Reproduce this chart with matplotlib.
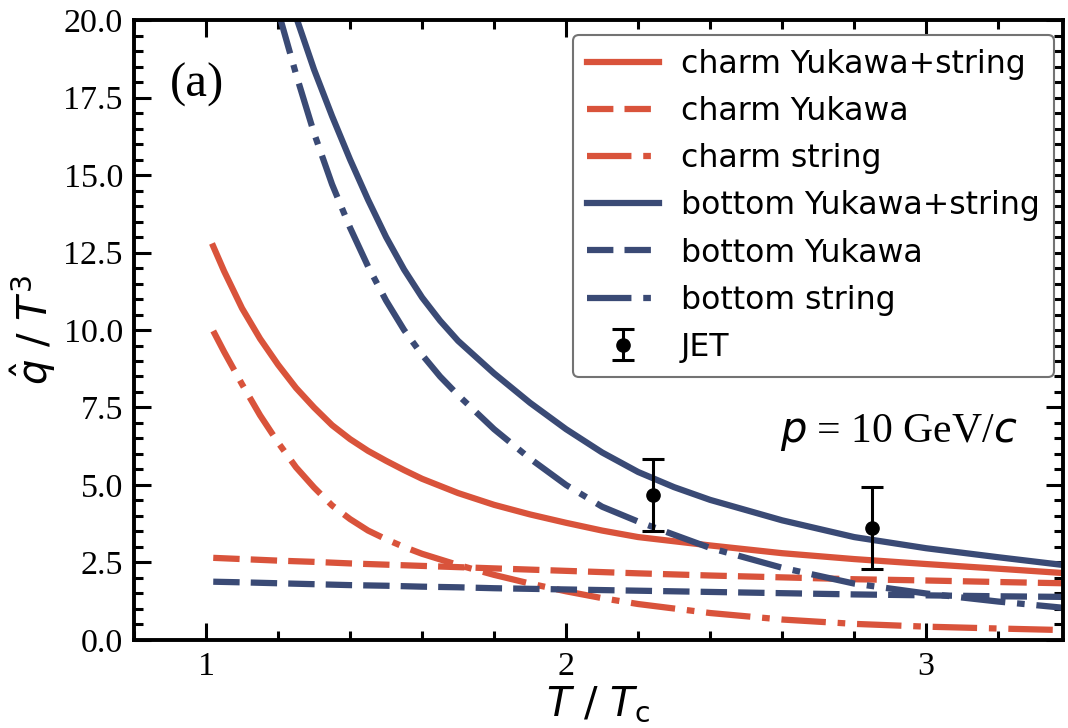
import numpy as np
import matplotlib.pyplot as plt
from matplotlib.ticker import MultipleLocator

plt.rcParams["mathtext.fontset"] = "dejavusans"

# T / Tc grid for the charm curves (finer where they fall steeply)
t_charm = [1.02, 1.05, 1.1, 1.15, 1.2, 1.25, 1.3, 1.35, 1.4, 1.45, 1.5, 1.55, 1.6,
           1.7, 1.8, 1.9, 2.0, 2.1, 2.2, 2.4, 2.6, 2.8, 3.0, 3.2, 3.38]
charm_total = [12.7, 11.9, 10.7, 9.72, 8.88, 8.13, 7.5, 6.93, 6.48, 6.1, 5.78, 5.48, 5.2,
               4.74, 4.36, 4.05, 3.78, 3.53, 3.32, 3.05, 2.8, 2.61, 2.45, 2.3, 2.16]
charm_string = [9.97, 9.3, 8.25, 7.25, 6.37, 5.57, 4.92, 4.34, 3.9, 3.53, 3.25, 3.0, 2.78,
                2.42, 2.1, 1.82, 1.57, 1.35, 1.16, 0.87, 0.66, 0.52, 0.43, 0.37, 0.32]

# Yukawa contributions vary slowly
t_yukawa = [1.02, 1.1, 1.2, 1.3, 1.4, 1.5, 1.6, 1.7, 1.8, 1.9, 2.0,
            2.2, 2.4, 2.6, 2.8, 3.0, 3.2, 3.38]
charm_yukawa = [2.65, 2.61, 2.56, 2.52, 2.47, 2.43, 2.39, 2.35, 2.31, 2.27, 2.23,
                2.15, 2.08, 2.02, 1.96, 1.92, 1.87, 1.83]
bottom_yukawa = [1.88, 1.86, 1.83, 1.80, 1.77, 1.75, 1.72, 1.70, 1.67, 1.65, 1.63,
                 1.59, 1.55, 1.51, 1.47, 1.44, 1.41, 1.39]

# bottom curves only enter the frame below q/T^3 = 20
t_bottom_total = [1.24, 1.25, 1.3, 1.35, 1.4, 1.45, 1.5, 1.55, 1.6, 1.65, 1.7,
                  1.8, 1.9, 2.0, 2.1, 2.2, 2.3, 2.4, 2.6, 2.8, 3.0, 3.2, 3.38]
bottom_total = [20.45, 20.1, 18.4, 16.9, 15.5, 14.2, 13.0, 11.95, 11.05, 10.3, 9.65,
                8.6, 7.65, 6.8, 6.05, 5.42, 4.93, 4.52, 3.86, 3.32, 2.96, 2.67, 2.42]
t_bottom_string = [1.2, 1.25, 1.3, 1.35, 1.4, 1.45, 1.5, 1.55, 1.6, 1.65, 1.7,
                   1.8, 1.9, 2.0, 2.1, 2.2, 2.4, 2.6, 2.8, 3.0, 3.2, 3.38]
bottom_string = [20.3, 18.25, 16.35, 14.7, 13.3, 12.05, 10.95, 10.0, 9.2, 8.5, 7.9,
                 6.8, 5.85, 5.0, 4.3, 3.82, 2.97, 2.33, 1.82, 1.5, 1.24, 1.04]

# JET extraction
jet_t = [2.24, 2.85]
jet_q = [4.68, 3.62]
jet_err = [1.15, 1.32]

red = "#d9533b"
blue = "#3a4a75"
lw = 4.5
dashed = (0, (19.0 / lw, 8.0 / lw))
dashdot = (0, (32.0 / lw, 8.5 / lw, 5.5 / lw, 8.5 / lw))

fig = plt.figure(figsize=(10.68, 7.28), dpi=100)
ax = fig.add_axes([0.1255, 0.1209, 0.8698, 0.8516])

ax.plot(t_charm, charm_total, color=red, lw=lw, label="charm Yukawa+string")
ax.plot(t_yukawa, charm_yukawa, color=red, lw=lw, ls=dashed, label="charm Yukawa")
ax.plot(t_charm, charm_string, color=red, lw=lw, ls=dashdot, label="charm string")
ax.plot(t_bottom_total, bottom_total, color=blue, lw=lw, label="bottom Yukawa+string")
ax.plot(t_yukawa, bottom_yukawa, color=blue, lw=lw, ls=dashed, label="bottom Yukawa")
ax.plot(t_bottom_string, bottom_string, color=blue, lw=lw, ls=dashdot, label="bottom string")
ax.errorbar(jet_t, jet_q, yerr=jet_err, fmt="o", color="black", ms=9.5,
            elinewidth=2.2, capsize=8, capthick=2.2, zorder=5, label="JET")

ax.set_xlim(0.8, 3.38)
ax.set_ylim(0, 20)
ax.xaxis.set_major_locator(MultipleLocator(1))
ax.xaxis.set_minor_locator(MultipleLocator(0.2))
ax.yaxis.set_major_locator(MultipleLocator(2.5))
ax.yaxis.set_minor_locator(MultipleLocator(0.5))
ax.yaxis.set_major_formatter(lambda v, pos: f"{v:.1f}")

for s in ax.spines.values():
    s.set_linewidth(2.8)
ax.tick_params(which="both", direction="in", top=True, right=True, width=2.2)
ax.tick_params(which="major", length=12, labelsize=24.5, pad=8)
ax.tick_params(which="minor", length=6.5)
for lab in ax.get_xticklabels() + ax.get_yticklabels():
    lab.set_fontfamily("Liberation Serif")

ax.set_xlabel(r"$T$ / $T_{\rm c}$", fontsize=29, family="DejaVu Sans", labelpad=2)
ax.set_ylabel(r"$\hat{q}$ / $T^3$", fontsize=29, family="DejaVu Sans", labelpad=4)

ax.text(0.039, 0.895, "(a)", transform=ax.transAxes, fontsize=35,
        family="Liberation Serif", va="center", ha="left")
ax.text(2.594, 6.7, r"$p$ = 10 GeV/$c$", fontsize=30,
        family="Liberation Serif", va="center", ha="left")

leg = ax.legend(loc="upper right", bbox_to_anchor=(0.9903, 0.9758), borderaxespad=0,
                prop={"family": "DejaVu Sans", "size": 22.7},
                handlelength=2.27, handletextpad=0.7, labelspacing=0.51,
                borderpad=0.45, fancybox=True, framealpha=1)
leg.get_frame().set_edgecolor("0.45")
leg.get_frame().set_linewidth(1.5)

fig.savefig("out.png", dpi=100)
